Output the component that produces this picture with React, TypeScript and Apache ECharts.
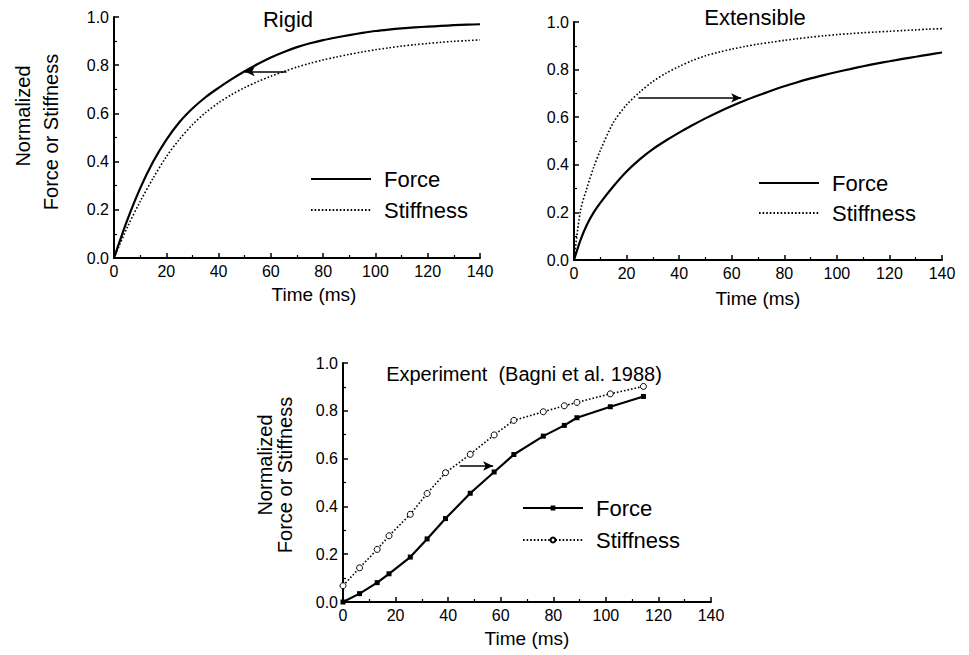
import React, { useEffect, useRef } from "react";
import * as echarts from "echarts";

const FONT = "'Liberation Sans', Arial, Helvetica, sans-serif";

// Panel 1: Rigid
const rigidTime = [0, 5, 10, 15, 20, 25, 30, 35, 40, 45, 50, 55, 60, 65, 70, 75, 80, 85, 90, 95, 100, 105, 110, 115, 120, 125, 130, 135, 140];
const rigidForce = [0, 0.155, 0.289, 0.4, 0.49, 0.563, 0.62, 0.667, 0.706, 0.742, 0.775, 0.805, 0.832, 0.855, 0.875, 0.891, 0.904, 0.915, 0.925, 0.934, 0.942, 0.948, 0.953, 0.957, 0.96, 0.963, 0.966, 0.968, 0.97];
const rigidStiffness = [0, 0.125, 0.234, 0.332, 0.42, 0.492, 0.553, 0.603, 0.644, 0.678, 0.707, 0.732, 0.754, 0.774, 0.792, 0.808, 0.822, 0.834, 0.845, 0.855, 0.864, 0.872, 0.879, 0.885, 0.89, 0.895, 0.899, 0.902, 0.905];
const rigidArrow = [[66, 0.774], [50, 0.774]];

// Panel 2: Extensible
const extTime = [0, 2.5, 5, 7.5, 10, 15, 20, 25, 30, 35, 40, 45, 50, 55, 60, 65, 70, 75, 80, 85, 90, 95, 100, 105, 110, 115, 120, 125, 130, 135, 140];
const extForce = [0, 0.085, 0.15, 0.2, 0.24, 0.31, 0.372, 0.423, 0.466, 0.502, 0.535, 0.566, 0.595, 0.622, 0.647, 0.67, 0.691, 0.711, 0.73, 0.747, 0.763, 0.777, 0.79, 0.802, 0.814, 0.825, 0.835, 0.845, 0.854, 0.863, 0.872];
const extStiffness = [0, 0.21, 0.305, 0.39, 0.46, 0.578, 0.652, 0.705, 0.75, 0.785, 0.813, 0.838, 0.858, 0.873, 0.886, 0.897, 0.907, 0.915, 0.923, 0.93, 0.936, 0.942, 0.947, 0.951, 0.955, 0.958, 0.961, 0.964, 0.967, 0.97, 0.972];
const extArrow = [[24.5, 0.681], [63.6, 0.681]];

// Panel 3: Experiment (Bagni et al. 1988)
const expTime = [0, 6.3, 13, 17.5, 25.6, 32, 39, 48.4, 57.5, 65, 76.2, 84.2, 89, 101.7, 114.3];
const expForce = [0, 0.035, 0.081, 0.118, 0.188, 0.264, 0.349, 0.455, 0.544, 0.617, 0.694, 0.739, 0.771, 0.817, 0.86];
const expStiffness = [0.068, 0.143, 0.22, 0.277, 0.367, 0.454, 0.541, 0.618, 0.699, 0.76, 0.796, 0.821, 0.835, 0.871, 0.902];
const expArrow = [[44.4, 0.569], [57.1, 0.569]];

const xTicks = { min: 0, max: 140, interval: 20 };
const yTicks = { min: 0, max: 1, interval: 0.2 };

const zip = (xs: number[], ys: number[]) => xs.map((x, i) => [x, ys[i]]);

const black = "#000";

function xAxis(gridIndex: number, namePad: number, nameGap: number) {
  return {
    type: "value",
    gridIndex,
    min: xTicks.min,
    max: xTicks.max,
    interval: xTicks.interval,
    axisLine: { show: true, onZero: false, lineStyle: { color: black, width: 2 } },
    axisTick: { show: true, inside: true, length: 5, lineStyle: { color: black, width: 1.5 } },
    minorTick: { show: true, splitNumber: 2, length: 3, lineStyle: { color: black, width: 1.2 } },
    splitLine: { show: false },
    axisLabel: { color: black, fontSize: 16, margin: 5, fontFamily: FONT },
    name: "Time (ms)",
    nameLocation: "middle",
    nameGap,
    nameTextStyle: { color: black, fontSize: 19, fontFamily: FONT, padding: [0, 0, 0, namePad] },
  };
}

function yAxis(gridIndex: number) {
  return {
    type: "value",
    gridIndex,
    min: yTicks.min,
    max: yTicks.max,
    interval: yTicks.interval,
    axisLine: { show: true, onZero: false, lineStyle: { color: black, width: 2 } },
    axisTick: { show: true, inside: true, length: 5, lineStyle: { color: black, width: 1.5 } },
    minorTick: { show: true, splitNumber: 2, length: 3, lineStyle: { color: black, width: 1.2 } },
    splitLine: { show: false },
    axisLabel: {
      color: black,
      fontSize: 16,
      margin: 5,
      fontFamily: FONT,
      formatter: (v: number) => v.toFixed(1),
    },
  };
}

function arrowLine(pts: number[][]) {
  return {
    silent: true,
    symbol: ["none", "arrow"],
    symbolSize: [7, 10],
    label: { show: false },
    emphasis: { disabled: true },
    lineStyle: { color: black, width: 1.5, type: "solid" },
    data: [[{ coord: pts[0] }, { coord: pts[1] }]],
  };
}

const solidStyle = { color: black, width: 2.2, type: "solid" };
const dotStyle = { color: black, width: 1.6, type: [1.6, 2] };

function legend(names: string[], left: number, top: number, gap: number, hideSymbol: boolean) {
  return {
    data: names,
    left,
    top,
    padding: 0,
    orient: "vertical",
    itemWidth: 60,
    itemHeight: hideSymbol ? 14 : 6,
    itemGap: gap,
    selectedMode: false,
    itemStyle: hideSymbol ? { opacity: 0 } : {},
    formatter: (n: string) => n.split(" ")[0],
    textStyle: { color: black, fontSize: 22, fontFamily: FONT, lineHeight: 22, padding: [0, 0, 0, 8] },
  };
}

export default function App() {
  const ref = useRef<HTMLDivElement>(null);
  useEffect(() => {
    if (!ref.current) return;
    const chart = echarts.init(ref.current, null, { renderer: "svg" });
    const option = {
      animation: false,
      backgroundColor: "#fff",
      textStyle: { fontFamily: FONT },
      title: [
        { text: "Rigid", left: 288, top: 8, textAlign: "center", padding: 0, textStyle: { fontSize: 22, fontWeight: "normal", color: black, fontFamily: FONT } },
        { text: "Extensible", left: 755, top: 6, textAlign: "center", padding: 0, textStyle: { fontSize: 22, fontWeight: "normal", color: black, fontFamily: FONT } },
        { text: "Experiment  (Bagni et al. 1988)", left: 524, top: 364, textAlign: "center", padding: 0, textStyle: { fontSize: 20, fontWeight: "normal", color: black, fontFamily: FONT } },
      ],
      grid: [
        { left: 114, top: 17, width: 366, height: 241 },
        { left: 574, top: 22, width: 368, height: 238 },
        { left: 343, top: 363, width: 368, height: 239 },
      ],
      xAxis: [xAxis(0, 34, 27), xAxis(1, 0, 29), xAxis(2, 0, 27)],
      yAxis: [yAxis(0), yAxis(1), yAxis(2)],
      legend: [
        legend(["Force (Rigid)", "Stiffness (Rigid)"], 310, 168, 9, true),
        legend(["Force (Extensible)", "Stiffness (Extensible)"], 758, 172, 8, true),
        legend(["Force (Experiment)", "Stiffness (Experiment)"], 522, 497, 10, false),
      ],
      series: [
        {
          name: "Force (Rigid)", type: "line", xAxisIndex: 0, yAxisIndex: 0,
          data: zip(rigidTime, rigidForce), smooth: 0.3, symbol: "none",
          lineStyle: solidStyle, itemStyle: { color: black }, markLine: arrowLine(rigidArrow),
        },
        {
          name: "Stiffness (Rigid)", type: "line", xAxisIndex: 0, yAxisIndex: 0,
          data: zip(rigidTime, rigidStiffness), smooth: 0.3, symbol: "none",
          lineStyle: dotStyle, itemStyle: { color: black },
        },
        {
          name: "Force (Extensible)", type: "line", xAxisIndex: 1, yAxisIndex: 1,
          data: zip(extTime, extForce), smooth: 0.3, symbol: "none",
          lineStyle: solidStyle, itemStyle: { color: black }, markLine: arrowLine(extArrow),
        },
        {
          name: "Stiffness (Extensible)", type: "line", xAxisIndex: 1, yAxisIndex: 1,
          data: zip(extTime, extStiffness), smooth: 0.3, symbol: "none",
          lineStyle: dotStyle, itemStyle: { color: black },
        },
        {
          name: "Force (Experiment)", type: "line", xAxisIndex: 2, yAxisIndex: 2,
          data: zip(expTime, expForce), symbol: "rect", symbolSize: 5,
          lineStyle: solidStyle, itemStyle: { color: black }, markLine: arrowLine(expArrow),
        },
        {
          name: "Stiffness (Experiment)", type: "line", xAxisIndex: 2, yAxisIndex: 2,
          data: zip(expTime, expStiffness), symbol: "circle", symbolSize: 6,
          lineStyle: dotStyle, itemStyle: { color: "#fff", borderColor: black, borderWidth: 1 },
        },
      ],
      graphic: [
        { type: "text", x: 22.5, y: 116, rotation: Math.PI / 2, style: { text: "Normalized", fontSize: 20, fontFamily: FONT, fill: black, align: "center", verticalAlign: "middle" } },
        { type: "text", x: 51, y: 132, rotation: Math.PI / 2, style: { text: "Force or Stiffness", fontSize: 20, fontFamily: FONT, fill: black, align: "center", verticalAlign: "middle" } },
        { type: "text", x: 265, y: 465, rotation: Math.PI / 2, style: { text: "Normalized", fontSize: 20, fontFamily: FONT, fill: black, align: "center", verticalAlign: "middle" } },
        { type: "text", x: 285, y: 475, rotation: Math.PI / 2, style: { text: "Force or Stiffness", fontSize: 20, fontFamily: FONT, fill: black, align: "center", verticalAlign: "middle" } },
      ],
    };
    chart.setOption(option as any);
    return () => chart.dispose();
  }, []);
  return (
    <div
      ref={ref}
      style={{ position: "fixed", left: 0, top: 0, width: 969, height: 655, background: "#fff" }}
    />
  );
}
